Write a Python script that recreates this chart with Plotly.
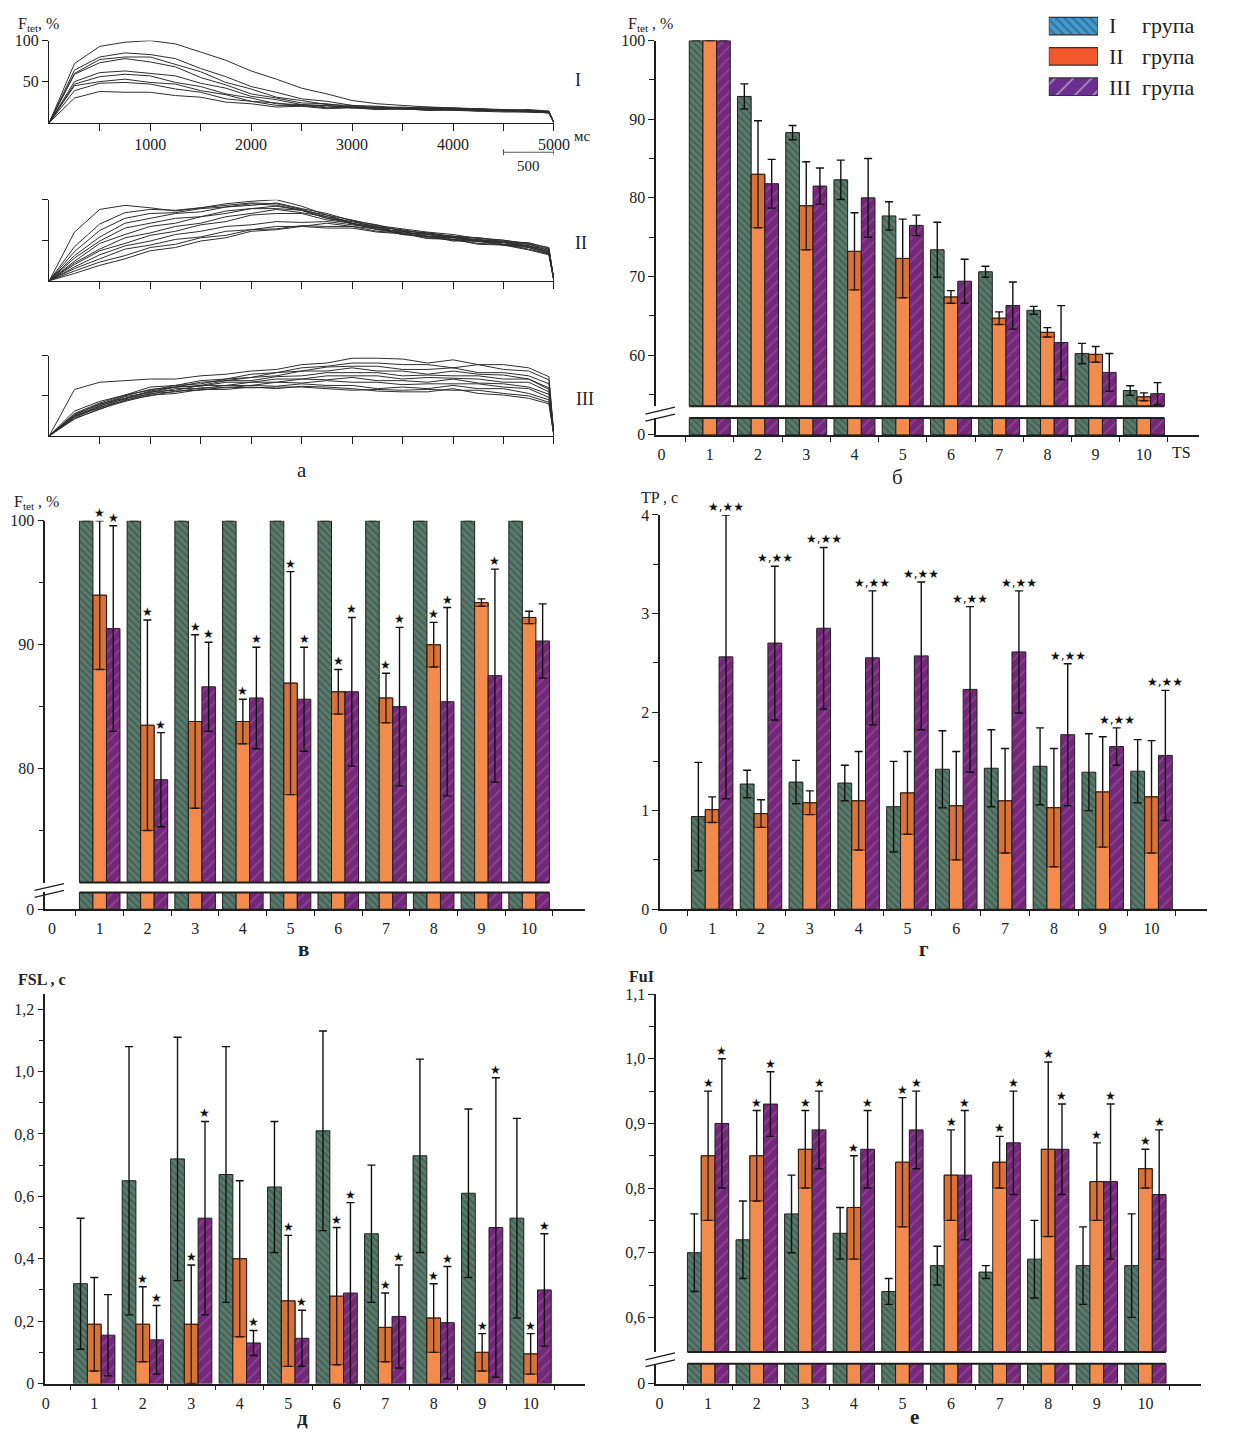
import plotly.graph_objects as go

W, H = 1234, 1436
SERIF = "Liberation Serif"

# ---------------- DATA ----------------
# panel а : tetanic force traces (% of max) vs time, ms
t_ms = [0, 250, 500, 750, 1000, 1250, 1500, 1750, 2000, 2250, 2500, 2750,
        3000, 3250, 3500, 3750, 4000, 4250, 4500, 4750, 4950, 5000]

curves_I = [
    [0, 72, 93, 98, 100, 96, 86, 76, 63, 53, 42, 35, 27, 23, 21, 19, 18, 17, 16, 15, 14, 0],
    [0, 64, 80, 85, 83, 78, 66, 56, 44, 37, 29, 26, 21, 20, 18, 19, 17, 17, 15, 16, 14, 0],
    [0, 60, 77, 80, 80, 71, 62, 49, 41, 31, 27, 22, 21, 18, 19, 17, 18, 16, 16, 14, 13, 0],
    [0, 59, 73, 78, 74, 68, 55, 46, 35, 30, 24, 23, 19, 19, 17, 18, 16, 17, 15, 15, 13, 0],
    [0, 50, 61, 63, 60, 57, 48, 42, 32, 28, 22, 21, 18, 19, 17, 17, 16, 15, 16, 14, 12, 0],
    [0, 47, 56, 59, 57, 49, 44, 35, 30, 23, 22, 19, 20, 17, 18, 16, 17, 15, 14, 14, 13, 0],
    [0, 45, 50, 53, 49, 47, 39, 34, 26, 24, 20, 21, 18, 18, 16, 17, 15, 16, 14, 13, 12, 0],
    [0, 39, 48, 49, 47, 41, 37, 29, 26, 21, 21, 18, 19, 16, 17, 15, 16, 14, 15, 13, 12, 0],
    [0, 30, 38, 37, 37, 33, 31, 25, 23, 19, 20, 17, 18, 16, 17, 15, 15, 14, 13, 13, 12, 0],
]
curves_II = [
    [0, 60, 88, 93, 90, 86, 90, 93, 96, 95, 88, 79, 73, 67, 62, 59, 55, 53, 50, 46, 41, 0],
    [0, 42, 70, 84, 88, 87, 90, 95, 98, 100, 92, 81, 75, 68, 64, 60, 57, 52, 50, 45, 39, 0],
    [0, 36, 62, 77, 83, 84, 89, 91, 95, 93, 87, 77, 73, 66, 63, 57, 55, 50, 49, 43, 38, 0],
    [0, 31, 54, 71, 77, 83, 85, 91, 93, 96, 89, 83, 74, 69, 61, 59, 54, 53, 48, 47, 40, 0],
    [0, 28, 49, 65, 71, 77, 79, 86, 89, 92, 87, 81, 71, 66, 59, 58, 53, 51, 47, 45, 37, 0],
    [0, 24, 46, 57, 67, 71, 79, 83, 89, 89, 87, 77, 71, 63, 61, 55, 54, 49, 48, 42, 36, 0],
    [0, 22, 39, 53, 59, 67, 71, 79, 83, 88, 84, 79, 70, 66, 59, 57, 51, 51, 45, 43, 35, 0],
    [0, 20, 37, 46, 56, 61, 69, 73, 81, 83, 83, 75, 71, 63, 61, 54, 53, 48, 47, 41, 34, 0],
    [0, 17, 32, 43, 49, 57, 61, 67, 69, 73, 72, 73, 69, 65, 57, 55, 49, 49, 44, 43, 35, 0],
    [0, 15, 27, 39, 44, 51, 54, 61, 63, 67, 67, 71, 67, 64, 57, 55, 50, 49, 44, 41, 33, 0],
    [0, 12, 23, 31, 41, 45, 53, 56, 63, 64, 68, 67, 67, 61, 59, 53, 51, 46, 45, 39, 33, 0],
    [0, 9, 19, 27, 37, 41, 49, 53, 61, 63, 67, 65, 65, 60, 58, 52, 51, 45, 44, 38, 32, 0],
]
curves_III = [
    [0, 58, 67, 69, 71, 71, 75, 77, 81, 83, 89, 91, 97, 97, 96, 91, 95, 89, 89, 85, 74, 0],
    [0, 31, 43, 51, 61, 63, 69, 71, 77, 79, 85, 87, 91, 91, 89, 89, 85, 89, 83, 81, 70, 0],
    [0, 28, 41, 51, 57, 63, 65, 71, 73, 79, 81, 86, 87, 87, 83, 83, 85, 79, 79, 75, 65, 0],
    [0, 27, 39, 50, 58, 61, 67, 69, 73, 75, 81, 81, 85, 81, 81, 77, 81, 77, 76, 71, 60, 0],
    [0, 26, 40, 47, 56, 61, 63, 69, 69, 74, 75, 79, 79, 79, 75, 76, 75, 75, 71, 71, 58, 0],
    [0, 25, 37, 49, 54, 61, 62, 67, 67, 71, 71, 75, 75, 75, 71, 73, 72, 71, 67, 67, 55, 0],
    [0, 24, 38, 46, 55, 57, 63, 63, 67, 67, 71, 70, 73, 69, 69, 67, 71, 66, 65, 61, 52, 0],
    [0, 25, 35, 47, 52, 59, 59, 63, 63, 67, 66, 69, 67, 67, 64, 65, 65, 65, 61, 59, 48, 0],
    [0, 23, 36, 44, 53, 55, 60, 60, 63, 62, 65, 63, 63, 59, 61, 59, 63, 59, 59, 53, 45, 0],
    [0, 22, 33, 45, 50, 56, 57, 61, 60, 61, 61, 59, 57, 58, 57, 58, 57, 57, 53, 50, 42, 0],
    [0, 21, 34, 43, 51, 53, 58, 58, 61, 59, 62, 61, 59, 56, 55, 55, 59, 53, 51, 47, 40, 0],
]

ts = [1, 2, 3, 4, 5, 6, 7, 8, 9, 10]
ts_labels = ["0", "1", "2", "3", "4", "5", "6", "7", "8", "9", "10"]

# panel б : Ftet, %
b_I = [100, 92.9, 88.3, 82.3, 77.7, 73.4, 70.6, 65.7, 60.2, 55.5]
b_I_err = [0, 1.6, 0.9, 2.5, 1.8, 3.5, 0.7, 0.5, 1.3, 0.6]
b_II = [100, 83.0, 79.0, 73.2, 72.3, 67.4, 64.7, 62.9, 60.1, 54.7]
b_II_err = [0, 6.8, 5.6, 4.9, 5.0, 0.8, 0.8, 0.6, 1.0, 0.5]
b_III = [100, 81.8, 81.5, 80.0, 76.5, 69.4, 66.3, 61.6, 57.8, 55.1]
b_III_err = [0, 3.1, 2.3, 5.0, 1.3, 2.8, 3.0, 4.7, 2.4, 1.4]

# panel в : Ftet, %
v_I = [100, 100, 100, 100, 100, 100, 100, 100, 100, 100]
v_I_err = [0, 0, 0, 0, 0, 0, 0, 0, 0, 0]
v_II = [94.0, 83.5, 83.8, 83.8, 86.9, 86.2, 85.7, 90.0, 93.4, 92.2]
v_II_err = [6.0, 8.5, 7.0, 1.8, 9.0, 1.8, 2.0, 1.8, 0.3, 0.5]
v_III = [91.3, 79.1, 86.6, 85.7, 85.6, 86.2, 85.0, 85.4, 87.5, 90.3]
v_III_err = [8.3, 3.8, 3.6, 4.1, 4.2, 6.0, 6.4, 7.6, 8.6, 3.0]
v_star_II = [1, 1, 1, 1, 1, 1, 1, 1, 0, 0]
v_star_III = [1, 1, 1, 1, 1, 1, 1, 1, 1, 0]

# panel г : TP, c
g_I = [0.94, 1.27, 1.29, 1.28, 1.04, 1.42, 1.43, 1.45, 1.39, 1.40]
g_I_err = [0.55, 0.14, 0.22, 0.18, 0.46, 0.39, 0.39, 0.39, 0.39, 0.32]
g_II = [1.01, 0.97, 1.08, 1.10, 1.18, 1.05, 1.10, 1.03, 1.19, 1.14]
g_II_err = [0.13, 0.14, 0.12, 0.50, 0.42, 0.55, 0.53, 0.60, 0.56, 0.57]
g_III = [2.56, 2.70, 2.85, 2.55, 2.57, 2.23, 2.61, 1.77, 1.65, 1.56]
g_III_err = [1.44, 0.78, 0.82, 0.68, 0.75, 0.84, 0.62, 0.72, 0.19, 0.66]
g_star_III = [1, 1, 1, 1, 1, 1, 1, 1, 1, 1]

# panel д : FSL, c
d_I = [0.32, 0.65, 0.72, 0.67, 0.63, 0.81, 0.48, 0.73, 0.61, 0.53]
d_I_err = [0.21, 0.43, 0.39, 0.41, 0.21, 0.32, 0.22, 0.31, 0.27, 0.32]
d_II = [0.19, 0.19, 0.19, 0.40, 0.265, 0.28, 0.18, 0.21, 0.10, 0.095]
d_II_err = [0.15, 0.12, 0.19, 0.25, 0.21, 0.22, 0.11, 0.11, 0.06, 0.065]
d_III = [0.155, 0.14, 0.53, 0.13, 0.145, 0.29, 0.215, 0.195, 0.50, 0.30]
d_III_err = [0.13, 0.11, 0.31, 0.04, 0.09, 0.29, 0.165, 0.18, 0.48, 0.18]
d_star_II = [0, 1, 1, 0, 1, 1, 1, 1, 1, 1]
d_star_III = [0, 1, 1, 1, 1, 1, 1, 1, 1, 1]

# panel е : FuI
e_I = [0.70, 0.72, 0.76, 0.73, 0.64, 0.68, 0.67, 0.69, 0.68, 0.68]
e_I_err = [0.06, 0.06, 0.06, 0.04, 0.02, 0.03, 0.01, 0.06, 0.06, 0.08]
e_II = [0.85, 0.85, 0.86, 0.77, 0.84, 0.82, 0.84, 0.86, 0.81, 0.83]
e_II_err = [0.10, 0.07, 0.06, 0.08, 0.10, 0.07, 0.04, 0.135, 0.06, 0.03]
e_III = [0.90, 0.93, 0.89, 0.86, 0.89, 0.82, 0.87, 0.86, 0.81, 0.79]
e_III_err = [0.10, 0.05, 0.06, 0.06, 0.06, 0.10, 0.08, 0.07, 0.12, 0.10]
e_star_II = [1, 1, 1, 1, 1, 1, 1, 1, 1, 1]
e_star_III = [1, 1, 1, 1, 1, 1, 1, 1, 1, 1]

legend_groups = ["I", "II", "III"]
legend_word = "група"

# ---------------- STYLE ----------------
BARGAP = 0.15
BW = (1 - BARGAP) / 3
TEAL_BG, TEAL_FG = "#5a7a6d", "#2b443a"
ORANGE = "#f38b4d"
PURP_BG, PURP_FG = "#74287a", "#a95ba8"
LINE = "#1e1e1e"
TXT = "#222222"

fig = go.Figure()
ann = []
shapes = []


def xd(l, r):
    return [l / W, r / W]


def yd(top, bottom):
    return [1 - bottom / H, 1 - top / H]


def P(px, py):
    return px / W, 1 - py / H


def text(t, px, py, size=16, xa="center", ya="middle", bold=False, family=SERIF):
    x, y = P(px, py)
    if bold:
        t = "<b>" + t + "</b>"
    ann.append(dict(text=t, x=x, y=y, xref="paper", yref="paper", showarrow=False,
                    xanchor=xa, yanchor=ya, font=dict(size=size, family=family, color=TXT)))


def pline(x0, y0, x1, y1, w=1.5):
    a, b = P(x0, y0)
    c, d = P(x1, y1)
    shapes.append(dict(type="line", xref="paper", yref="paper", x0=a, y0=b, x1=c, y1=d,
                       line=dict(color=LINE, width=w)))


# ---------------- PANEL а ----------------
TICKF = dict(family=SERIF, size=16, color=TXT)
a_geo = [("x", "y", curves_I, (33, 116), True),
         ("x2", "y2", curves_II, (194, 276), False),
         ("x3", "y3", curves_III, (352, 433), False)]
layout_axes = {}
for i, (xa, ya, curves, (top, bot), lab) in enumerate(a_geo):
    for c in curves:
        fig.add_trace(go.Scatter(x=t_ms, y=c, mode="lines", xaxis=xa, yaxis=ya,
                                 line=dict(color="#2e2e2e", width=1), showlegend=False,
                                 hoverinfo="skip"))
    kx = "xaxis" if i == 0 else "xaxis%d" % (i + 1)
    ky = "yaxis" if i == 0 else "yaxis%d" % (i + 1)
    layout_axes[kx] = dict(domain=xd(46, 559), range=[0, 5000], anchor=ya, showline=True,
                           linecolor=LINE, linewidth=1.4, showgrid=False, zeroline=False,
                           tickvals=[1000, 2000, 3000, 4000, 5000], ticks="outside",
                           ticklen=7, tickcolor=LINE, tickwidth=1.2,
                           showticklabels=lab, tickfont=TICKF,
                           minor=dict(tickvals=[500, 1500, 2500, 3500, 4500], ticks="outside",
                                      ticklen=7, tickcolor=LINE, tickwidth=1.2))
    layout_axes[ky] = dict(domain=yd(top, bot), range=[0, 100], anchor=xa, showline=True,
                           linecolor=LINE, linewidth=1.4, showgrid=False, zeroline=False,
                           tickvals=[50, 100], ticks="outside", ticklen=6, tickcolor=LINE,
                           tickwidth=1.2, showticklabels=lab, tickfont=TICKF)

text("F<sub>tet</sub>, %", 12, 17, size=16, xa="left")
text("мс", 588, 130, size=15)
text("I", 583, 73, size=18)
text("II", 587, 238, size=18)
text("III", 591, 396, size=18)
# 500 ms scale bar
shapes.append(dict(type="line", xref="x", yref="paper", x0=4500, x1=5000,
                   y0=1 - 146 / H, y1=1 - 146 / H, line=dict(color="#555", width=1.2)))
for xv in (4500, 5000):
    shapes.append(dict(type="line", xref="x", yref="paper", x0=xv, x1=xv,
                       y0=1 - 143 / H, y1=1 - 149 / H, line=dict(color="#555", width=1.2)))
text("500", 533, 160, size=15)
text("а", 303, 468, size=21)


# ---------------- BAR PANELS ----------------
def bar_set(xa, ya, I, Ie, II, IIe, III, IIIe, err=True):
    specs = [("1", I, Ie, TEAL_BG, TEAL_FG, "\\", 5, 0.35),
             ("2", II, IIe, ORANGE, ORANGE, "", 5, 0.0),
             ("3", III, IIIe, PURP_BG, PURP_FG, "/", 8, 0.22)]
    for og, vals, errs, bg, fg, sh, sz, sol in specs:
        mk = dict(color=bg, line=dict(color=LINE, width=1))
        if sh:
            mk["pattern"] = dict(shape=sh, fgcolor=fg, bgcolor=bg, size=sz, solidity=sol)
        fig.add_trace(go.Bar(x=ts, y=vals, xaxis=xa, yaxis=ya, offsetgroup=og, marker=mk,
                             error_y=dict(type="data", array=errs, visible=err, color="#111",
                                          thickness=1.4, width=4),
                             showlegend=False, hoverinfo="skip"))
        if err and og == "2":
            base = [v - e for v, e in zip(vals, errs)]
            fig.add_trace(go.Bar(x=ts, y=errs, base=base, xaxis=xa, yaxis=ya, offsetgroup="2",
                                 marker=dict(color="rgba(140,55,15,0.28)",
                                             line=dict(color="rgba(60,20,0,0.7)", width=1)),
                                 showlegend=False, hoverinfo="skip"))


def stars(xa, ya, vals, errs, flags, off, t="★", size=12):
    for x, v, e, f in zip(ts, vals, errs, flags):
        if f:
            ann.append(dict(text=t, x=x + off, y=v + e, xref=xa, yref=ya, showarrow=False,
                            xanchor="center", yanchor="bottom", yshift=-1,
                            font=dict(size=size, family="DejaVu Sans", color="#111")))


def xcat(l, r, rng, anchor, show=True):
    if not show:
        return dict(domain=xd(l, r), range=rng, anchor=anchor, visible=False)
    return dict(domain=xd(l, r), range=rng, anchor=anchor, showline=True, linecolor=LINE,
                linewidth=1.6, showgrid=False, zeroline=False,
                tickvals=[0] + ts, ticktext=ts_labels, ticks="", tickfont=TICKF,
                ticklabelstandoff=4,
                minor=dict(tickvals=[k + 0.5 for k in range(0, 11)], ticks="outside",
                           ticklen=5, tickcolor=LINE, tickwidth=1.3))


def ylin(top, bot, rng, anchor, vals, txt, minor_vals):
    return dict(domain=yd(top, bot), range=rng, anchor=anchor, showline=True, linecolor=LINE,
                linewidth=1.6, showgrid=False, zeroline=False, tickvals=vals, ticktext=txt,
                ticks="outside", ticklen=6, tickcolor=LINE, tickwidth=1.3, tickfont=TICKF,
                minor=dict(tickvals=minor_vals, ticks="outside", ticklen=5, tickcolor=LINE,
                           tickwidth=1.2))


def break_lines(xa_up, ya_up, xa_lo, ya_lo, yax_px, y_up_px, y_lo_px):
    lo, hi = 0.5 + BARGAP / 2, 10.5 - BARGAP / 2
    shapes.append(dict(type="line", xref=xa_up, yref=ya_up + " domain", x0=lo, x1=hi,
                       y0=0, y1=0, line=dict(color=LINE, width=2)))
    shapes.append(dict(type="line", xref=xa_lo, yref=ya_lo + " domain", x0=lo, x1=hi,
                       y0=1, y1=1, line=dict(color=LINE, width=2)))
    pline(yax_px - 11, y_up_px + 5, yax_px + 19, y_up_px - 2, 1.3)
    pline(yax_px - 11, y_lo_px + 2, yax_px + 19, y_lo_px - 5, 1.3)


# б
bar_set("x4", "y4", b_I, b_I_err, b_II, b_II_err, b_III, b_III_err)
bar_set("x5", "y5", b_I, b_I_err, b_II, b_II_err, b_III, b_III_err, err=False)
layout_axes["xaxis4"] = xcat(663, 1215, [-0.11, 11.15], "y4", show=False)
layout_axes["yaxis4"] = ylin(33, 403, [53.5, 100], "x4", [60, 70, 80, 90, 100],
                             ["60", "70", "80", "90", "100"], [55, 65, 75, 85, 95])
layout_axes["xaxis5"] = xcat(663, 1215, [-0.11, 11.15], "y5")
layout_axes["yaxis5"] = ylin(415, 432, [0, 2.2], "x5", [0], ["0"], [])
break_lines("x4", "y4", "x5", "y5", 663, 406, 416)
text("F<sub>tet</sub> , %", 632, 17, size=16, xa="left")
text("TS", 1197, 450, size=16)
text("б", 908, 475, size=21)

# в
bar_set("x6", "y6", v_I, v_I_err, v_II, v_II_err, v_III, v_III_err)
bar_set("x7", "y7", v_I, v_I_err, v_II, v_II_err, v_III, v_III_err, err=False)
layout_axes["xaxis6"] = xcat(42, 591, [-0.14, 11.18], "y6", show=False)
layout_axes["yaxis6"] = ylin(519, 885, [70.8, 100], "x6", [80, 90, 100],
                             ["80", "90", "100"], [75, 85, 95])
layout_axes["xaxis7"] = xcat(42, 591, [-0.14, 11.18], "y7")
layout_axes["yaxis7"] = ylin(895, 912, [0, 2.2], "x7", [0], ["0"], [])
break_lines("x6", "y6", "x7", "y7", 42, 888, 898)
stars("x6", "y6", v_II, v_II_err, v_star_II, 0.0)
stars("x6", "y6", v_III, v_III_err, v_star_III, BW)
text("F<sub>tet</sub> , %", 8, 500, size=16, xa="left")
text("в", 304, 952, size=21, bold=True)

# г
bar_set("x8", "y8", g_I, g_I_err, g_II, g_II_err, g_III, g_III_err)
layout_axes["xaxis8"] = xcat(667, 1223, [-0.065, 11.14], "y8")
layout_axes["yaxis8"] = ylin(513, 912, [0, 4], "x8", [0, 1, 2, 3, 4],
                             ["0", "1", "2", "3", "4"], [0.5, 1.5, 2.5, 3.5])
stars("x8", "y8", g_III, g_III_err, g_star_III, BW, t="★,★★", size=12)
text("TP , c", 645, 495, size=16, xa="left")
text("г", 935, 952, size=21, bold=True)

# д
bar_set("x9", "y9", d_I, d_I_err, d_II, d_II_err, d_III, d_III_err)
layout_axes["xaxis9"] = xcat(42, 591, [-0.01, 11.13], "y9")
layout_axes["yaxis9"] = ylin(998, 1392, [0, 1.248], "x9", [0, 0.2, 0.4, 0.6, 0.8, 1.0, 1.2],
                             ["0", "0,2", "0,4", "0,6", "0,8", "1,0", "1,2"],
                             [0.1, 0.3, 0.5, 0.7, 0.9, 1.1])
stars("x9", "y9", d_II, d_II_err, d_star_II, 0.0)
stars("x9", "y9", d_III, d_III_err, d_star_III, BW)
text("FSL , c", 12, 983, size=16, xa="left", bold=True)
text("д", 303, 1427, size=21, bold=True)

# е
bar_set("x10", "y10", e_I, e_I_err, e_II, e_II_err, e_III, e_III_err)
bar_set("x11", "y11", e_I, e_I_err, e_II, e_II_err, e_III, e_III_err, err=False)
layout_axes["xaxis10"] = xcat(663, 1217, [-0.067, 11.15], "y10", show=False)
layout_axes["yaxis10"] = ylin(998, 1360, [0.5465, 1.1], "x10", [0.6, 0.7, 0.8, 0.9, 1.0, 1.1],
                              ["0,6", "0,7", "0,8", "0,9", "1,0", "1,1"],
                              [0.65, 0.75, 0.85, 0.95, 1.05])
layout_axes["xaxis11"] = xcat(663, 1217, [-0.067, 11.15], "y11")
layout_axes["yaxis11"] = ylin(1372, 1392, [0, 0.05], "x11", [0], ["0"], [])
break_lines("x10", "y10", "x11", "y11", 663, 1363, 1373)
stars("x10", "y10", e_II, e_II_err, e_star_II, 0.0)
stars("x10", "y10", e_III, e_III_err, e_star_III, BW)
text("FuI", 633, 980, size=16, xa="left", bold=True)
text("е", 925, 1426, size=21, bold=True)

# ---------------- LEGEND (mini axis) ----------------
fig.add_trace(go.Bar(x=[1, 1, 1], y=[0, 1, 2], orientation="h", xaxis="x12", yaxis="y12",
                     width=0.58, showlegend=False, hoverinfo="skip",
                     marker=dict(color=["#3d9bd6", "#f2582c", "#6b2d90"],
                                 line=dict(color="#333", width=1.2),
                                 pattern=dict(shape=["\\", "", "/"],
                                              fgcolor=["#1d3d66", "#f2582c", "#221036"],
                                              bgcolor=["#3d9bd6", "#f2582c", "#6b2d90"],
                                              size=[6, 6, 13], solidity=[0.35, 0.0, 0.12]))))
layout_axes["xaxis12"] = dict(domain=xd(1062, 1112), range=[0, 1], anchor="y12", visible=False)
layout_axes["yaxis12"] = dict(domain=yd(3, 95), range=[2.5, -0.5], anchor="x12", visible=False)
for i, g in enumerate(legend_groups):
    cy = 18 + i * 31
    text(g, 1121, cy, size=22, xa="left")
    text(legend_word, 1155, cy, size=22, xa="left")

fig.update_layout(width=W, height=H, margin=dict(l=0, r=0, t=0, b=0),
                  paper_bgcolor="white", plot_bgcolor="rgba(0,0,0,0)",
                  barmode="group", bargap=BARGAP, bargroupgap=0, showlegend=False,
                  annotations=ann, shapes=shapes, **layout_axes)

fig.write_html("out.html",
               post_script="document.body.style.margin='0';document.body.style.padding='0';")
